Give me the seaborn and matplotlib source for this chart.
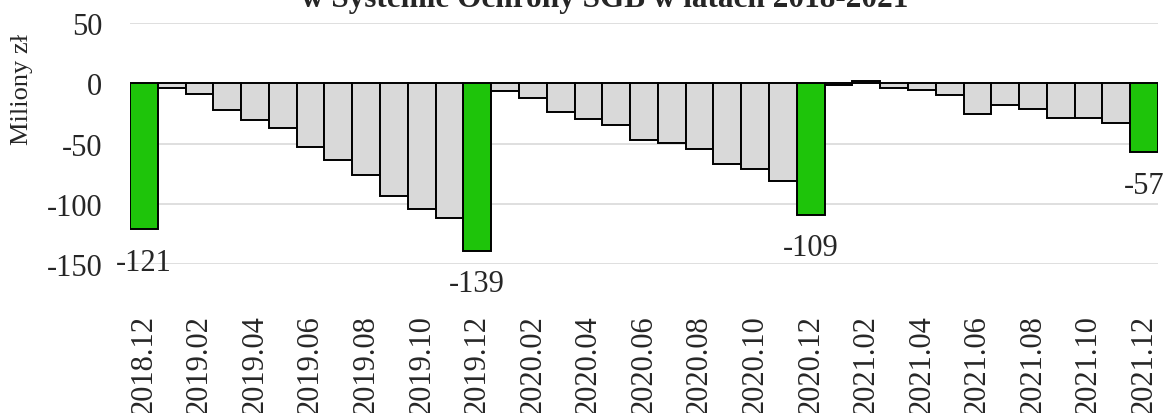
import matplotlib
matplotlib.use("Agg")
import matplotlib.pyplot as plt
import seaborn as sns
import pandas as pd

# Monthly result, millions of PLN, Dec 2018 – Dec 2021
months = [
    "2018.12", "2019.01", "2019.02", "2019.03", "2019.04", "2019.05", "2019.06",
    "2019.07", "2019.08", "2019.09", "2019.10", "2019.11", "2019.12",
    "2020.01", "2020.02", "2020.03", "2020.04", "2020.05", "2020.06",
    "2020.07", "2020.08", "2020.09", "2020.10", "2020.11", "2020.12",
    "2021.01", "2021.02", "2021.03", "2021.04", "2021.05", "2021.06",
    "2021.07", "2021.08", "2021.09", "2021.10", "2021.11", "2021.12",
]
values = [
    -121, -3.5, -8.6, -21.9, -30.2, -37.1, -53.1,
    -63.4, -75.8, -93.5, -104.1, -111.5, -139,
    -6.1, -12.2, -23.5, -29.9, -34.3, -46.8,
    -49.3, -54.5, -67.3, -71.4, -80.8, -109,
    -1.2, 1.9, -3.9, -5.8, -9.7, -25.5,
    -18.0, -21.0, -29.1, -28.8, -33.2, -57,
]
year_end = ["2018.12", "2019.12", "2020.12", "2021.12"]
y_ticks = [50, 0, -50, -100, -150]

title = "w Systemie Ochrony SGB w latach 2018-2021"
y_label = "Miliony zł"

df = pd.DataFrame({"month": months, "value": values})
df["kind"] = ["year" if m in year_end else "month" for m in months]

sns.set_theme(style="white")
plt.rcParams["font.family"] = ["Liberation Serif", "DejaVu Serif"]

fig = plt.figure(figsize=(11.64, 4.14), dpi=100)
ax = fig.add_axes([130 / 1164, 1 - 265 / 414, 1028 / 1164, (265 - 24.3) / 414])

sns.barplot(
    data=df, x="month", y="value", hue="kind",
    palette={"year": "#1ec40a", "month": "#d9d9d9"},
    saturation=1, dodge=False, width=1.0, legend=False,
    edgecolor="black", linewidth=1.4, ax=ax,
)

ax.set_xlim(-0.5, len(months) - 0.5)
ax.set_ylim(-150, 50)
ax.set_yticks(y_ticks)
ax.set_yticklabels([str(t) for t in y_ticks], fontsize=22)
ax.yaxis.grid(True, color="#d9d9d9", linewidth=1.2)
ax.set_axisbelow(True)

tick_idx = list(range(0, len(months), 2))
ax.set_xticks(tick_idx)
ax.set_xticklabels([months[i] for i in tick_idx], rotation=90, fontsize=22,
                   ha="center", va="top")
ax.tick_params(axis="x", length=0, pad=36)
ax.tick_params(axis="y", length=0, pad=20)
ax.set_xlabel("")
ax.set_ylabel("")
for s in ax.spines.values():
    s.set_visible(False)

# value labels under the year-end bars
for i, (m, v) in enumerate(zip(months, values)):
    if m in year_end:
        ax.annotate(f"{v:.0f}", xy=(i, v), xytext=(0, -23.8),
                    textcoords="offset points", ha="center", va="center",
                    fontsize=22)

fig.text(22 / 1164, 1 - 89 / 414, y_label, rotation=90, ha="center",
         va="center", fontsize=19)
fig.text(605 / 1164, 1 - 7 / 414, title, ha="center", va="baseline",
         fontsize=22.5, fontweight="bold")

fig.savefig("out.png", dpi=100)
